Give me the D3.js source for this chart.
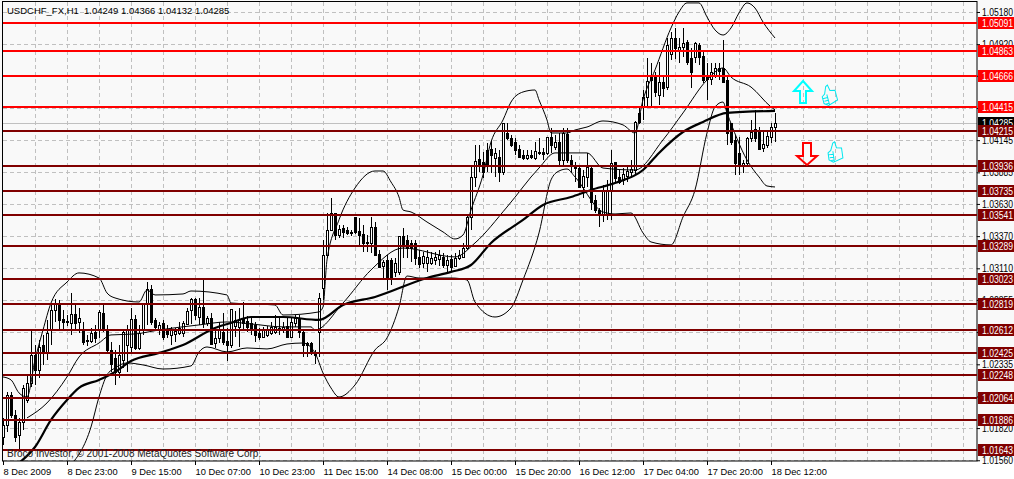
<!DOCTYPE html>
<html>
<head>
<meta charset="utf-8">
<script src="https://d3js.org/d3.v7.min.js"></script>
<style>
	html, body { margin: 0; padding: 0; background: #fff; overflow: hidden; }
	text { font-family: "Liberation Sans", sans-serif; }
</style>
</head>
<body>
<script>
//hourly candles, one entry per bar
let opens = [1.01748,1.01846,1.02088,1.01926,1.01764,1.01870,1.02047,1.02184,1.02410,1.02289,
	1.02491,1.02435,1.02612,1.02774,1.02830,1.02701,1.02685,1.02669,1.02741,1.02677,
	1.02604,1.02532,1.02523,1.02596,1.02612,1.02750,1.02612,1.02451,1.02386,1.02273,
	1.02370,1.02491,1.02475,1.02701,1.02467,1.02612,1.02830,1.02943,1.02693,1.02620,
	1.02669,1.02620,1.02572,1.02580,1.02588,1.02588,1.02661,1.02774,1.02863,1.02717,
	1.02798,1.02669,1.02709,1.02507,1.02548,1.02596,1.02523,1.02491,1.02645,1.02637,
	1.02701,1.02685,1.02669,1.02653,1.02588,1.02556,1.02572,1.02588,1.02596,1.02620,
	1.02620,1.02645,1.02556,1.02669,1.02701,1.02596,1.02507,1.02507,1.02435,1.02596,
	1.02951,1.03218,1.03420,1.03557,1.03379,1.03436,1.03420,1.03404,1.03525,1.03412,
	1.03388,1.03315,1.03315,1.03444,1.03226,1.03129,1.03178,1.03178,1.03081,1.03081,
	1.03371,1.03339,1.03315,1.03315,1.03202,1.03153,1.03153,1.03153,1.03178,1.03186,
	1.03202,1.03137,1.03186,1.03129,1.03194,1.03202,1.03274,1.03525,1.03848,1.03993,
	1.03969,1.04066,1.04074,1.03999,1.04009,1.03888,1.04203,1.04163,1.04130,1.04074,
	1.04026,1.04001,1.04026,1.04001,1.04042,1.04050,1.04042,1.04171,1.04090,1.04130,
	1.03985,1.04195,1.03985,1.03945,1.03920,1.03767,1.03848,1.03920,1.03662,1.03581,
	1.03541,1.03541,1.03743,1.03969,1.03848,1.03824,1.03856,1.03888,1.03904,1.04365,
	1.04413,1.04494,1.04663,1.04671,1.04510,1.04615,1.04574,1.04841,1.04970,1.04873,
	1.04897,1.04938,1.04809,1.04817,1.04914,1.04825,1.04655,1.04639,1.04671,1.04728,
	1.04728,1.04631,1.04284,1.04147,1.04042,1.03945,1.03961,1.04163,1.04235,1.04227,
	1.04082,1.04106,1.04171,1.04249];
let highs = [1.01902,1.02112,1.02112,1.01966,1.01902,1.02168,1.02249,1.02612,1.02491,1.02532,
	1.02572,1.02693,1.02814,1.02863,1.02855,1.02774,1.02733,1.02911,1.02830,1.02790,
	1.02677,1.02572,1.02628,1.02653,1.02774,1.02814,1.02653,1.02515,1.02451,1.02491,
	1.02612,1.02653,1.02790,1.02733,1.02653,1.02830,1.02999,1.02976,1.02709,1.02677,
	1.02693,1.02653,1.02637,1.02628,1.02677,1.02685,1.02790,1.02871,1.02871,1.02871,
	1.03016,1.02725,1.02750,1.02612,1.02677,1.02750,1.02628,1.02782,1.02766,1.02790,
	1.02838,1.02725,1.02709,1.02677,1.02628,1.02637,1.02645,1.02677,1.02733,1.02709,
	1.02677,1.02709,1.02709,1.02733,1.02733,1.02612,1.02515,1.02515,1.02451,1.02911,
	1.03339,1.03557,1.03678,1.03557,1.03460,1.03460,1.03444,1.03420,1.03525,1.03517,
	1.03460,1.03379,1.03525,1.03484,1.03258,1.03178,1.03218,1.03194,1.03194,1.03371,
	1.03436,1.03379,1.03339,1.03339,1.03258,1.03242,1.03258,1.03242,1.03242,1.03258,
	1.03234,1.03218,1.03218,1.03234,1.03258,1.03315,1.03533,1.03945,1.04106,1.04106,
	1.04050,1.04122,1.04147,1.04082,1.04066,1.04284,1.04284,1.04187,1.04163,1.04106,
	1.04066,1.04066,1.04066,1.04130,1.04163,1.04082,1.04171,1.04243,1.04187,1.04203,
	1.04243,1.04243,1.04026,1.03969,1.03945,1.03904,1.04042,1.03945,1.03703,1.03597,
	1.03783,1.03824,1.04066,1.03969,1.03904,1.03920,1.03945,1.03985,1.04300,1.04413,
	1.04550,1.04809,1.04768,1.04696,1.04777,1.04671,1.04970,1.05019,1.05051,1.04970,
	1.05051,1.04954,1.04889,1.04938,1.04930,1.04857,1.04768,1.04768,1.04768,1.04768,
	1.04954,1.04655,1.04284,1.04187,1.04171,1.03985,1.04171,1.04308,1.04389,1.04251,
	1.04227,1.04227,1.04284,1.04366];
let lows = [1.01684,1.01789,1.01902,1.01708,1.01643,1.01805,1.02023,1.02152,1.02168,1.02225,
	1.02330,1.02370,1.02491,1.02677,1.02612,1.02612,1.02645,1.02572,1.02612,1.02588,
	1.02491,1.02483,1.02507,1.02507,1.02548,1.02596,1.02435,1.02273,1.02168,1.02225,
	1.02305,1.02273,1.02435,1.02451,1.02451,1.02572,1.02653,1.02653,1.02612,1.02572,
	1.02532,1.02548,1.02491,1.02515,1.02572,1.02556,1.02653,1.02661,1.02693,1.02653,
	1.02628,1.02645,1.02491,1.02467,1.02507,1.02491,1.02362,1.02467,1.02556,1.02475,
	1.02612,1.02596,1.02572,1.02515,1.02532,1.02548,1.02556,1.02572,1.02580,1.02572,
	1.02588,1.02548,1.02548,1.02637,1.02548,1.02394,1.02394,1.02410,1.02338,1.02394,
	1.02855,1.03194,1.03412,1.03339,1.03355,1.03355,1.03379,1.03371,1.03388,1.03299,
	1.03242,1.03242,1.03234,1.03218,1.03113,1.03016,1.02935,1.02976,1.03040,1.03056,
	1.03194,1.03194,1.03161,1.03137,1.03113,1.03113,1.03081,1.03137,1.03137,1.03129,
	1.03113,1.03081,1.03081,1.03121,1.03178,1.03194,1.03258,1.03420,1.03767,1.03888,
	1.03840,1.03888,1.03880,1.03848,1.03808,1.03864,1.04147,1.04090,1.04026,1.04001,
	1.03985,1.03985,1.03993,1.03985,1.04026,1.03985,1.04026,1.04042,1.04066,1.03945,
	1.03945,1.03961,1.03888,1.03808,1.03759,1.03678,1.03767,1.03581,1.03557,1.03444,
	1.03484,1.03501,1.03501,1.03808,1.03791,1.03783,1.03808,1.03840,1.03864,1.04276,
	1.04308,1.04413,1.04413,1.04494,1.04429,1.04494,1.04550,1.04793,1.04801,1.04768,
	1.04817,1.04752,1.04566,1.04768,1.04752,1.04607,1.04470,1.04591,1.04647,1.04631,
	1.04607,1.04106,1.04106,1.03864,1.03864,1.03880,1.03945,1.04130,1.04130,1.04066,
	1.04050,1.04082,1.04122,1.04132];
let closes = [1.01846,1.02088,1.01926,1.01748,1.01870,1.02144,1.02184,1.02410,1.02289,1.02475,
	1.02435,1.02588,1.02774,1.02830,1.02693,1.02677,1.02677,1.02741,1.02669,1.02709,
	1.02515,1.02523,1.02588,1.02548,1.02758,1.02628,1.02451,1.02338,1.02273,1.02410,
	1.02596,1.02612,1.02701,1.02467,1.02588,1.02830,1.02943,1.02677,1.02637,1.02653,
	1.02556,1.02580,1.02612,1.02604,1.02628,1.02669,1.02766,1.02863,1.02733,1.02798,
	1.02669,1.02709,1.02499,1.02548,1.02620,1.02515,1.02491,1.02782,1.02693,1.02693,
	1.02669,1.02637,1.02612,1.02572,1.02556,1.02612,1.02620,1.02637,1.02637,1.02628,
	1.02637,1.02556,1.02677,1.02709,1.02596,1.02491,1.02491,1.02435,1.02410,1.02871,
	1.03218,1.03420,1.03557,1.03379,1.03428,1.03404,1.03396,1.03396,1.03404,1.03379,
	1.03315,1.03323,1.03444,1.03218,1.03121,1.03161,1.03040,1.03040,1.03153,1.03371,
	1.03299,1.03274,1.03274,1.03194,1.03145,1.03210,1.03202,1.03194,1.03202,1.03218,
	1.03137,1.03178,1.03121,1.03194,1.03218,1.03274,1.03525,1.03848,1.03977,1.03945,
	1.03888,1.03945,1.04026,1.04042,1.03888,1.04284,1.04163,1.04106,1.04066,1.04009,
	1.04001,1.04026,1.04009,1.04058,1.04050,1.04034,1.04171,1.04106,1.04130,1.03985,
	1.04203,1.03985,1.03945,1.03920,1.03767,1.03856,1.03928,1.03646,1.03581,1.03541,
	1.03735,1.03743,1.03961,1.03840,1.03808,1.03872,1.03896,1.03912,1.04292,1.04292,
	1.04494,1.04623,1.04631,1.04534,1.04615,1.04566,1.04914,1.04970,1.04889,1.04897,
	1.04930,1.04777,1.04696,1.04930,1.04817,1.04631,1.04639,1.04696,1.04728,1.04704,
	1.04615,1.04203,1.04130,1.03961,1.03945,1.03961,1.04163,1.04211,1.04163,1.04074,
	1.04114,1.04179,1.04251,1.04285];

let upperBars = [0,2,4,6,8,10,12,16,19,24,26,28,34,36,38,45,47,56,57,68,70,79,80,81,84,88,93,95,97,99,100,102,106,110,113,115,117,120,122,125,127,130,133,134,136,137,141,143,146,150,155,158,160,163,167,169,171,174,176,178,180,182,184,186,188,190,193];
let upperBand = [1.02233,1.02209,1.02104,1.02071,1.02370,1.02612,1.02830,1.02999,1.03073,1.03032,1.02911,1.02871,1.02838,1.02935,1.02895,1.02903,1.02927,1.02895,1.02830,1.02814,1.02733,1.02758,1.02798,1.03178,1.03501,1.03759,1.03896,1.03896,1.03807,1.03686,1.03581,1.03565,1.03484,1.03404,1.03347,1.03379,1.03581,1.03864,1.04130,1.04308,1.04453,1.04534,1.04550,1.04470,1.04308,1.04203,1.04203,1.04227,1.04251,1.04300,1.04268,1.04203,1.04470,1.04712,1.05051,1.05180,1.05253,1.05253,1.05140,1.05035,1.04994,1.05051,1.05172,1.05253,1.05212,1.05099,1.04970];
let midBars = [6,11,16,19,24,27,33,39,49,56,62,70,77,78,85,92,100,113,118,126,134,138,146,150,158,165,170,176,180,182,187,192,193];
let midBand = [1.01902,1.02023,1.02233,1.02394,1.02507,1.02572,1.02580,1.02612,1.02653,1.02677,1.02661,1.02637,1.02637,1.02612,1.02830,1.03097,1.03274,1.03202,1.03315,1.03605,1.03920,1.04042,1.04042,1.03920,1.03904,1.04147,1.04365,1.04631,1.04728,1.04655,1.04574,1.04413,1.04389];
let lowerBars = [17,22,24,26,28,31,35,40,47,49,51,56,61,66,71,75,78,80,82,84,88,93,96,99,101,104,112,116,118,123,127,130,134,137,139,141,143,150,153,157,160,162,167,170,173,176,178,180,181,186,189,191,193];
let lowerBand = [1.01522,1.01829,1.02071,1.02249,1.02305,1.02346,1.02330,1.02297,1.02322,1.02435,1.02475,1.02435,1.02467,1.02459,1.02499,1.02507,1.02427,1.02265,1.02144,1.02071,1.02168,1.02451,1.02548,1.02798,1.03048,1.03032,1.03032,1.03016,1.02838,1.02717,1.02790,1.03016,1.03396,1.03824,1.03896,1.03912,1.03848,1.03565,1.03549,1.03557,1.03396,1.03323,1.03299,1.03525,1.03743,1.04203,1.04413,1.04453,1.04365,1.03985,1.03848,1.03775,1.03767];
let maBars = [4,8,12,16,19,24,28,32,39,45,53,57,62,70,79,85,93,106,112,117,122,130,135,142,147,153,160,164,170,175,181,193];
let maLine = [1.01538,1.01667,1.01886,1.02047,1.02144,1.02209,1.02273,1.02362,1.02427,1.02491,1.02628,1.02669,1.02717,1.02717,1.02693,1.02814,1.02879,1.03032,1.03081,1.03137,1.03315,1.03501,1.03622,1.03686,1.03743,1.03799,1.03904,1.04042,1.04211,1.04292,1.04365,1.04381];

//horizontal levels drawn by hand on the chart
let redLevels = [1.05091,1.04863,1.04666,1.04415];
let darkLevels = [1.04215,1.03936,1.03735,1.03541,1.03289,1.03023,1.02819,1.02612,1.02425,1.02248,1.02064,1.01886,1.01643];
let lastPrice = 1.04285;

//axis labels
let priceTicks = [1.05180,1.04920,1.04665,1.04405,1.04145,1.03885,1.03630,1.03370,1.03110,1.02855,1.02595,1.02335,1.02075,1.01820,1.01560];
let timeBars = [0,16,32,48,64,80,96,112,128,144,160,176,192];
let timeLabels = ["8 Dec 2009","8 Dec 23:00","9 Dec 15:00","10 Dec 07:00","10 Dec 23:00","11 Dec 15:00","14 Dec 08:00","15 Dec 00:00","15 Dec 20:00","16 Dec 12:00","17 Dec 04:00","17 Dec 20:00","18 Dec 12:00"];

let svg = d3.select("body").append("svg")
	.attr("width", 1014)
	.attr("height", 479)
	.style("display", "block");

//plot frame edges
let left = 3, right = 977, top_ = 2, bottom = 461;

let x = d3.scaleLinear().domain([0, 243.5]).range([left, right]);
let y = d3.scaleLinear().domain([1.01643, 1.05091]).range([450, 23]);

svg.append("rect") //chart background
	.attr("width", 1014)
	.attr("height", bottom)
	.attr("fill", "#f9f9f9");

svg.append("clipPath").attr("id", "plot").append("rect")
	.attr("x", left).attr("y", top_)
	.attr("width", right - left).attr("height", bottom - top_);

let grid = svg.append("g").attr("stroke", "#c0c0c0").attr("stroke-dasharray", "4,3").attr("shape-rendering", "crispEdges");

grid.selectAll(".v").data(d3.range(8, 244, 8)).join("line") //vertical grid
	.attr("x1", d => x(d)).attr("x2", d => x(d))
	.attr("y1", top_).attr("y2", bottom);

grid.selectAll(".h").data(priceTicks).join("line") //horizontal grid
	.attr("x1", left).attr("x2", right)
	.attr("y1", d => Math.round(y(d))).attr("y2", d => Math.round(y(d)));

svg.append("line") //current price line
	.attr("x1", left).attr("x2", right)
	.attr("y1", Math.round(y(lastPrice))).attr("y2", Math.round(y(lastPrice)))
	.attr("stroke", "#c0c0c0")
	.attr("shape-rendering", "crispEdges");

let plot = svg.append("g").attr("clip-path", "url(#plot)");

//candles: wick first and then the body
let candles = plot.append("g").attr("shape-rendering", "crispEdges");

candles.selectAll(".wick").data(opens).join("line")
	.attr("x1", (d, i) => Math.round(x(i)) + 0.5)
	.attr("x2", (d, i) => Math.round(x(i)) + 0.5)
	.attr("y1", (d, i) => y(highs[i]))
	.attr("y2", (d, i) => y(lows[i]))
	.attr("stroke", "black");

candles.selectAll(".body").data(opens).join("rect")
	.attr("x", (d, i) => Math.round(x(i)) - 0.5)
	.attr("width", 2)
	.attr("y", (d, i) => Math.round(y(Math.max(d, closes[i]))) + 0.5)
	.attr("height", (d, i) => Math.max(1, Math.round(Math.abs(y(d) - y(closes[i])))))
	.attr("fill", (d, i) => closes[i] >= d ? "white" : "black")
	.attr("stroke", "black");

function drawLine(bars, values, width) {
	let line = d3.line()
		.x((d, i) => x(bars[i]))
		.y(d => y(d))
		.curve(d3.curveMonotoneX);
	plot.append("path")
		.attr("d", line(values))
		.attr("fill", "none")
		.attr("stroke", "black")
		.attr("stroke-width", width);
}

drawLine(upperBars, upperBand, 1);
drawLine(midBars, midBand, 1);
drawLine(lowerBars, lowerBand, 1);
drawLine(maBars, maLine, 2.2);

//frame
svg.append("rect")
	.attr("x", left - 0.5).attr("y", top_ - 0.5)
	.attr("width", right - left + 0.5).attr("height", bottom - top_ + 0.5)
	.attr("fill", "none")
	.attr("stroke", "black");

//price axis on the right
let yAxis = svg.append("g")
	.attr("transform", `translate(${right}, 0)`)
	.call(d3.axisRight(y).tickValues(priceTicks).tickSize(3).tickPadding(2).tickFormat(d3.format(".5f")));
yAxis.select(".domain").remove();
yAxis.selectAll("text")
	.attr("font-size", 10)
	.attr("font-family", "Liberation Sans")
	.attr("fill", "black")
	.attr("textLength", 31)
	.attr("lengthAdjust", "spacingAndGlyphs");

//time axis at the bottom
let xAxis = svg.append("g")
	.attr("transform", `translate(0, ${bottom})`)
	.call(d3.axisBottom(x).tickValues(timeBars).tickSize(4).tickPadding(3).tickFormat((d, i) => timeLabels[i]));
xAxis.select(".domain").remove();
xAxis.selectAll("text")
	.attr("text-anchor", "start")
	.attr("font-size", 9.3)
	.attr("font-family", "Liberation Sans")
	.attr("fill", "black");

//level lines with their price boxes
function drawLevels(levels, color) {
	let g = svg.append("g").attr("shape-rendering", "crispEdges");
	g.selectAll("line").data(levels).join("line")
		.attr("x1", left).attr("x2", right)
		.attr("y1", d => Math.round(y(d)))
		.attr("y2", d => Math.round(y(d)))
		.attr("stroke", color)
		.attr("stroke-width", 2);
}
function drawBoxes(levels, color) {
	let g = svg.append("g");
	g.selectAll("rect").data(levels).join("rect")
		.attr("x", 978).attr("width", 36)
		.attr("y", d => Math.round(y(d)) - 6).attr("height", 12)
		.attr("fill", color);
	g.selectAll("text").data(levels).join("text")
		.attr("x", 982)
		.attr("y", d => Math.round(y(d)) + 3.5)
		.attr("font-size", 10)
		.attr("fill", "white")
		.attr("textLength", 31)
		.attr("lengthAdjust", "spacingAndGlyphs")
		.text(d => d3.format(".5f")(d));
}
drawLevels(darkLevels, "#800000");
drawLevels(redLevels, "#ff0000");
drawBoxes([lastPrice], "black");
drawBoxes(darkLevels, "#800000");
drawBoxes(redLevels, "#ff0000");

//arrows and thumbs, anchored by bar and price
let arrowUp = "M0,-11 L9,-1 L3,-1 L3,11 L-3,11 L-3,-1 L-9,-1 Z";
let arrowDown = "M-4,-11 L4,-11 L4,2 L10,2 L0,11 L-10,2 L-4,2 Z";
let thumb = "M-7,0 L-4,-2 L-1,-9 L1,-10 L2,-4 L7,-3 L7,7 L-3,10 L-7,7 Z M-7,2 L-2,2 M-6,5 L-2,5 M-5,8 L-2,8 M-2,-1 L-2,10";

let icons = svg.append("g").attr("fill", "none");
icons.append("path").attr("d", arrowUp).attr("stroke", "#00ffff").attr("stroke-width", 2)
	.attr("transform", `translate(${x(200)}, ${y(1.04534)})`);
icons.append("path").attr("d", arrowDown).attr("stroke", "#ff0000").attr("stroke-width", 2)
	.attr("transform", `translate(${x(201)}, ${y(1.04034)})`);
icons.append("path").attr("d", thumb).attr("stroke", "#00e8f0")
	.attr("transform", `translate(${x(206.5)}, ${y(1.04510)}) rotate(-15)`);
icons.append("path").attr("d", thumb).attr("stroke", "#00e8f0")
	.attr("transform", `translate(${x(208)}, ${y(1.04050)}) rotate(-8)`);

//header and watermark
svg.append("text")
	.attr("x", 7).attr("y", 14)
	.attr("font-size", 9.5)
	.attr("fill", "black")
	.attr("xml:space", "preserve")
	.text("USDCHF_FX,H1  1.04249 1.04366 1.04132 1.04285");

svg.append("text")
	.attr("x", 7).attr("y", 457)
	.attr("font-size", 10)
	.attr("fill", "#202020")
	.text("Broco Investor, © 2001-2008 MetaQuotes Software Corp.");
</script>
</body>
</html>
